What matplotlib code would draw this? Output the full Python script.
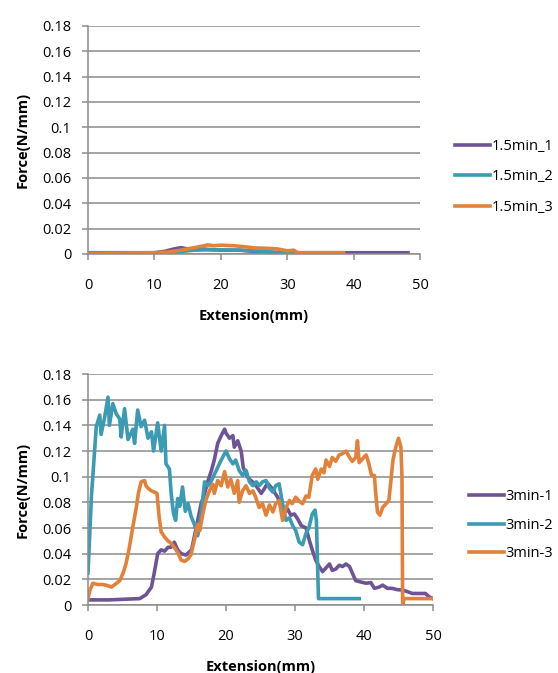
import matplotlib
matplotlib.use("Agg")
from matplotlib import pyplot as plt

plt.rcParams['font.family'] = ['Open Sans', 'DejaVu Sans']

# ---- 1.5 min samples (top chart) ----
x_15_1 = [0, 5, 10, 11.5, 13, 14, 15, 17, 20, 23, 25, 26.5, 28, 30, 35, 40, 45, 48.2]
y_15_1 = [0.001, 0.001, 0.001, 0.002, 0.004, 0.005, 0.004, 0.004, 0.003, 0.003, 0.002, 0.002, 0.001, 0.001, 0.001, 0.001, 0.001, 0.001]

x_15_2 = [0, 5, 10, 12, 14, 16, 18, 20, 22, 24, 26, 28, 30, 31]
y_15_2 = [0.0003, 0.0003, 0.0005, 0.001, 0.002, 0.003, 0.0033, 0.0032, 0.003, 0.0028, 0.0022, 0.0015, 0.0007, 0.0003]

x_15_3 = [0, 5, 10, 12, 14, 16, 17.5, 18, 19, 20, 22, 24, 25, 27, 28.5, 30, 31, 31.5, 32, 35, 38.5]
y_15_3 = [0.0005, 0.0008, 0.001, 0.0015, 0.003, 0.005, 0.0065, 0.0072, 0.0065, 0.007, 0.0065, 0.0055, 0.0048, 0.0045, 0.004, 0.0025, 0.003, 0.0012, 0.001, 0.001, 0.001]

# ---- 3 min samples (bottom chart) ----
x_3_1 = [0, 3, 7.5, 8.4, 9.2, 9.6, 10.1, 10.6, 11.1, 11.6, 12.0, 12.5, 13.0, 13.5, 14.2, 15.0, 15.4, 15.9,
         16.4, 16.9, 17.4, 17.9, 18.3, 18.8, 19.3, 19.8, 20.0, 20.5, 21.0, 21.2, 21.7, 22.2, 22.5, 23.1, 23.6,
         24.1, 24.6, 25.1, 25.6, 26.0, 26.5, 27.0, 27.5, 28.0, 28.5, 28.9, 29.4, 29.9, 30.4, 30.9, 31.6, 32.1,
         32.5, 33.0, 33.5, 34.0, 34.5, 35.0, 35.4, 35.9, 36.4, 36.9, 37.4, 37.9, 38.3, 38.8, 39.5, 40.3, 41.0,
         41.5, 42.2, 42.7, 43.4, 44.1, 44.8, 45.6, 46.3, 47.0, 48.0, 48.9, 49.4, 50.0]
y_3_1 = [0.004, 0.004, 0.005, 0.008, 0.014, 0.025, 0.040, 0.043, 0.042, 0.045, 0.045, 0.049, 0.043, 0.040,
         0.039, 0.043, 0.053, 0.066, 0.079, 0.087, 0.097, 0.105, 0.113, 0.126, 0.132, 0.137, 0.134, 0.130, 0.132,
         0.123, 0.128, 0.120, 0.107, 0.100, 0.097, 0.095, 0.091, 0.087, 0.091, 0.095, 0.092, 0.088, 0.084, 0.076,
         0.072, 0.075, 0.070, 0.071, 0.067, 0.062, 0.060, 0.050, 0.043, 0.035, 0.030, 0.026, 0.029, 0.032, 0.027,
         0.028, 0.031, 0.030, 0.032, 0.030, 0.025, 0.019, 0.018, 0.017, 0.0175, 0.013, 0.014, 0.0155, 0.013,
         0.013, 0.012, 0.0117, 0.0104, 0.009, 0.009, 0.009, 0.0065, 0.005]

x_3_2 = [0, 0.5, 1.2, 1.7, 1.9, 2.4, 2.9, 3.1, 3.6, 4.1, 4.6, 4.8, 5.3, 5.8, 6.5, 6.75, 7.2, 7.7, 8.2, 8.7,
         9.2, 9.5, 10.1, 10.6, 11.1, 11.3, 11.8, 12.05, 12.4, 12.7, 13.0, 13.3, 13.7, 14.1, 14.5, 14.95, 15.4,
         15.9, 16.4, 16.9, 17.4, 17.8, 18.6, 19.3, 20.0, 20.5, 21.0, 21.4, 21.9, 22.4, 22.9, 23.4, 23.9, 24.4,
         24.8, 25.3, 25.8, 26.3, 26.8, 27.2, 27.7, 28.2, 28.7, 29.2, 29.65, 30.1, 30.6, 31.1, 31.6, 32.0, 32.5,
         32.9, 33.1, 33.4, 35.0, 37.0, 39.3]
y_3_2 = [0.025, 0.085, 0.139, 0.148, 0.133, 0.146, 0.162, 0.140, 0.157, 0.149, 0.145, 0.131, 0.153, 0.129,
         0.137, 0.126, 0.152, 0.139, 0.144, 0.130, 0.135, 0.120, 0.142, 0.120, 0.140, 0.110, 0.106, 0.087, 0.071,
         0.066, 0.083, 0.077, 0.092, 0.073, 0.079, 0.069, 0.063, 0.054, 0.071, 0.096, 0.093, 0.096, 0.105, 0.113,
         0.120, 0.114, 0.110, 0.113, 0.105, 0.101, 0.105, 0.096, 0.093, 0.096, 0.093, 0.096, 0.097, 0.091, 0.088,
         0.093, 0.0945, 0.079, 0.066, 0.068, 0.062, 0.058, 0.049, 0.047, 0.056, 0.060, 0.071, 0.074, 0.066, 0.005,
         0.005, 0.005, 0.005]

x_3_3 = [0, 0.25, 0.7, 1.4, 2.2, 2.9, 3.4, 3.9, 4.6, 5.1, 5.5, 6.0, 6.5, 7.0, 7.3, 7.7, 8.2, 8.4, 8.7, 9.2,
         9.6, 10.0, 10.3, 10.6, 11.1, 11.6, 12.05, 12.5, 13.0, 13.5, 14.0, 14.5, 14.9, 15.4, 15.9, 16.2, 16.6,
         17.1, 17.6, 18.1, 18.3, 18.8, 19.3, 19.8, 20.25, 20.7, 21.2, 21.7, 21.9, 22.4, 22.9, 23.4, 23.9, 24.3,
         24.8, 25.3, 25.8, 26.3, 26.8, 27.2, 27.7, 28.2, 28.7, 29.2, 29.6, 30.1, 30.6, 31.1, 31.6, 32.0, 32.5,
         33.0, 33.3, 33.8, 34.2, 34.5, 35.0, 35.4, 35.9, 36.4, 36.9, 37.4, 37.9, 38.3, 38.8, 39.05, 39.3, 39.8,
         40.3, 40.5, 40.7, 41.1, 41.5, 41.7, 41.95, 42.3, 42.7, 43.2, 43.6, 43.9, 44.2, 44.6, 45.0, 45.35, 45.5,
         45.6, 45.8, 48.0, 50.0]
y_3_3 = [0.005, 0.011, 0.017, 0.016, 0.016, 0.015, 0.014, 0.016, 0.019, 0.025, 0.032, 0.045, 0.061, 0.076,
         0.087, 0.096, 0.097, 0.093, 0.091, 0.089, 0.088, 0.087, 0.069, 0.057, 0.053, 0.050, 0.048, 0.045, 0.041,
         0.035, 0.034, 0.036, 0.039, 0.050, 0.063, 0.058, 0.070, 0.082, 0.089, 0.094, 0.087, 0.097, 0.093, 0.104,
         0.092, 0.098, 0.087, 0.097, 0.080, 0.089, 0.093, 0.087, 0.089, 0.084, 0.076, 0.079, 0.070, 0.078, 0.0725,
         0.079, 0.0815, 0.066, 0.076, 0.0815, 0.079, 0.084, 0.081, 0.079, 0.085, 0.084, 0.101, 0.106, 0.098, 0.106,
         0.103, 0.113, 0.108, 0.115, 0.112, 0.117, 0.118, 0.120, 0.115, 0.112, 0.115, 0.128, 0.111, 0.114, 0.117,
         0.114, 0.110, 0.101, 0.101, 0.087, 0.0725, 0.070, 0.076, 0.079, 0.0815, 0.097, 0.113, 0.123, 0.130, 0.123,
         0.100, 0.0, 0.005, 0.005, 0.005]

purple = '#6f5495'
teal = '#3a9bb2'
orange = '#e2823a'
grid_col = '#8c8c8c'

y_ticks = [0, 0.02, 0.04, 0.06, 0.08, 0.1, 0.12, 0.14, 0.16, 0.18]
y_labels = ['0', '0.02', '0.04', '0.06', '0.08', '0.1', '0.12', '0.14', '0.16', '0.18']
x_ticks = [0, 10, 20, 30, 40, 50]

fig = plt.figure(figsize=(5.58, 6.73), dpi=100)
ax1 = fig.add_axes([0.1577, 0.6226, 0.595, 0.3388])
ax2 = fig.add_axes([0.1577, 0.101, 0.6183, 0.3432])


def style(ax):
    ax.set_xlim(0, 50)
    ax.set_ylim(0, 0.18)
    ax.set_yticks(y_ticks)
    ax.set_yticklabels(y_labels)
    ax.set_xticks(x_ticks)
    ax.grid(axis='y', color=grid_col, linewidth=1.1)
    ax.set_axisbelow(True)
    for s in ['top', 'right']:
        ax.spines[s].set_visible(False)
    for s in ['left', 'bottom']:
        ax.spines[s].set_color(grid_col)
        ax.spines[s].set_linewidth(1.1)
    ax.tick_params(axis='both', colors=grid_col, labelcolor='black', labelsize=10.5, length=4, width=1.1)
    ax.tick_params(axis='x', pad=13)
    ax.tick_params(axis='y', pad=8)
    ax.set_xlabel('Extension(mm)', fontsize=10.5, fontweight='bold', labelpad=12)
    ax.set_ylabel('Force(N/mm)', fontsize=10.5, fontweight='bold', labelpad=9)


ax1.plot(x_15_1, y_15_1, color=purple, lw=2.6, label='1.5min_1')
ax1.plot(x_15_2, y_15_2, color=teal, lw=2.6, label='1.5min_2')
ax1.plot(x_15_3, y_15_3, color=orange, lw=2.6, label='1.5min_3')
style(ax1)
ax1.legend(loc='center left', bbox_to_anchor=(1.105, 0.338), frameon=False, fontsize=10.5,
           handlelength=2.4, handletextpad=0.1, labelspacing=1.05, borderaxespad=0, borderpad=0)

ax2.plot(x_3_1, y_3_1, color=purple, lw=2.6, label='3min-1')
ax2.plot(x_3_2, y_3_2, color=teal, lw=2.6, label='3min-2')
ax2.plot(x_3_3, y_3_3, color=orange, lw=2.6, label='3min-3')
style(ax2)
ax2.legend(loc='center left', bbox_to_anchor=(1.104, 0.346), frameon=False, fontsize=10.5,
           handlelength=2.4, handletextpad=0.1, labelspacing=0.95, borderaxespad=0, borderpad=0)

fig.savefig('out.png', dpi=100)
